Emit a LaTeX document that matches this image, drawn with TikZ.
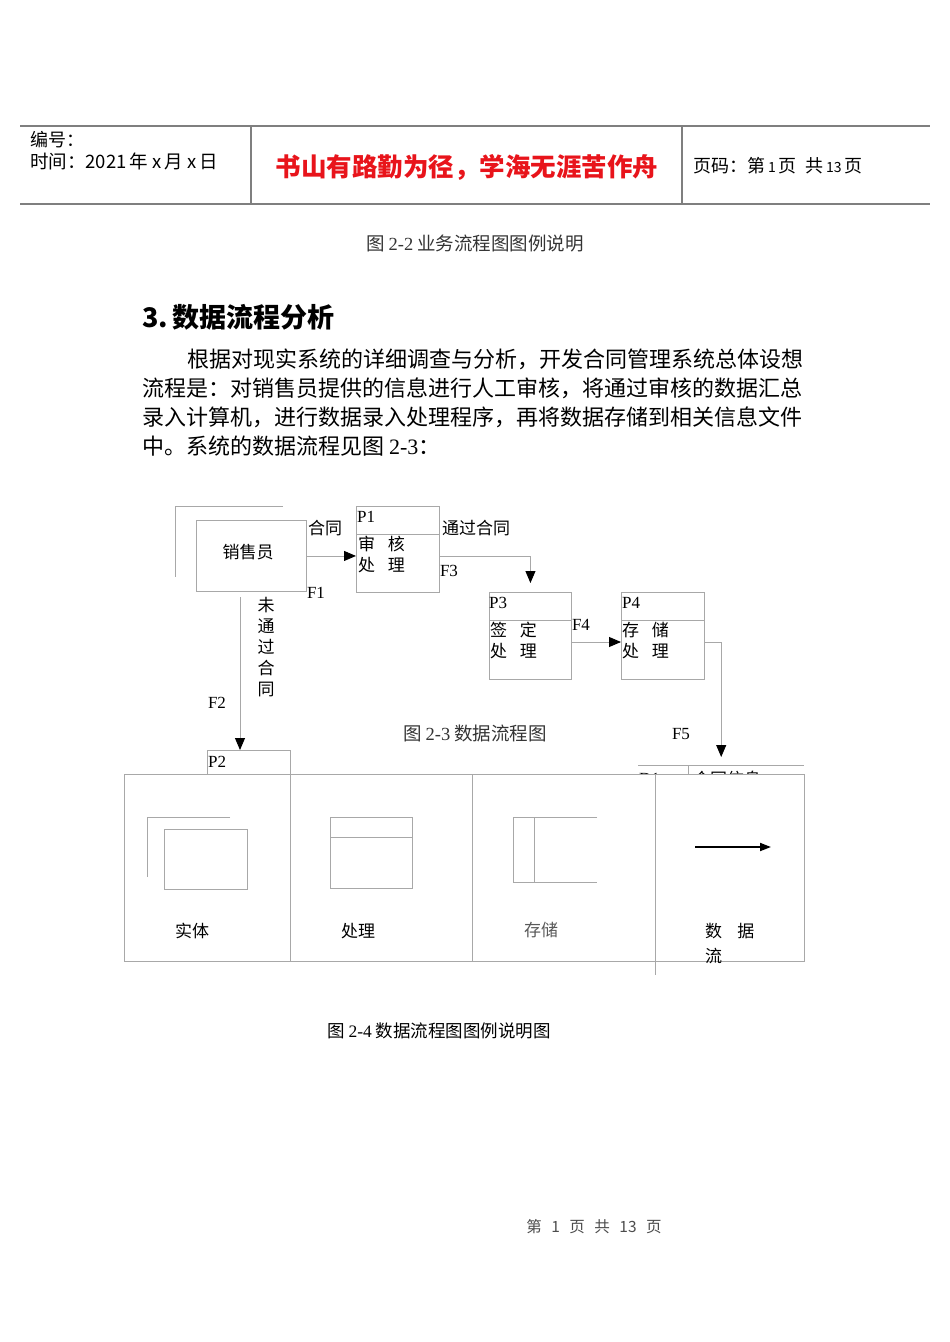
\documentclass[tikz,border=0pt]{standalone}
\usepackage{fontspec}
\setmainfont{Liberation Serif}
\newfontfamily\cjk{Noto Sans CJK SC}
\usetikzlibrary{arrows.meta, positioning}

\definecolor{linegray}{HTML}{A8A8A8}
\definecolor{rulegray}{HTML}{7F7F7F}
\definecolor{titlered}{HTML}{E8141B}
\definecolor{capgray}{HTML}{333333}

\begin{document}
\begin{tikzpicture}[
    x=1pt, y=-1pt, % page pixels, y grows downwards
    line/.style={draw=linegray, line width=0.9pt}, % thin gray box lines
    rule/.style={draw=rulegray, line width=1.3pt}, % header table lines
    flow/.style={line, -{Triangle[length=12pt, width=10pt, color=black]}}, % data flows
    box/.style={line, rectangle, inner sep=0pt, anchor=north west},
    txt/.style={inner sep=0pt, font=\cjk\fontsize{17}{21}\selectfont},
    lat/.style={inner sep=0pt, font=\fontsize{17}{21}\selectfont},
    body/.style={inner sep=0pt, anchor=west, font=\cjk\fontsize{22}{29}\selectfont}
]

    % Page size
    \useasboundingbox (0,0) rectangle (950,1342);

    % Header table
    \draw[rule] (20,126) -- (930,126);
    \draw[rule] (20,204) -- (930,204);
    \draw[rule] (251,126) -- (251,204);
    \draw[rule] (682,126) -- (682,204);
    \node[txt, anchor=west, font=\cjk\fontsize{18}{22}\selectfont] (code) at (30,140) {编号：};
    \node[txt, anchor=west, font=\cjk\fontsize{18.5}{22}\selectfont] (date) at (30,161) {时间：2021\,年\ x\,月\ x\,日};
    \node[txt, text=titlered, font=\cjk\bfseries\fontsize{25.5}{30}\selectfont] (motto) at (467,167) {书山有路勤为径，学海无涯苦作舟};
    \node[txt, anchor=west, font=\cjk\fontsize{18}{22}\selectfont] (pageno) at (693,166)
        {页码：第\,{\fontsize{14}{16}\selectfont 1}\,页\ \ 共\,{\fontsize{14}{16}\selectfont 13}\,页};

    % Text above the diagram
    \node[txt, text=capgray, font=\cjk\fontsize{18.5}{22}\selectfont] (cap22) at (475,244) {图 {\rmfamily 2-2} 业务流程图图例说明};
    \node[txt, anchor=west, font=\cjk\bfseries\fontsize{27}{32}\selectfont] (heading) at (142,317) {3.\,数据流程分析};
    \node[body] (line1) at (187,359) {根据对现实系统的详细调查与分析，开发合同管理系统总体设想};
    \node[body] (line2) at (142,388) {流程是：对销售员提供的信息进行人工审核，将通过审核的数据汇总};
    \node[body] (line3) at (142,417) {录入计算机，进行数据录入处理程序，再将数据存储到相关信息文件};
    \node[body] (line4) at (142,446) {中。系统的数据流程见图 {\rmfamily 2-3}：};

    % Entity: salesman
    \draw[line] (283,506) -- (175,506) -- (175,577);
    \node[box, minimum width=110pt, minimum height=71pt] (sales) at (196,520) {};
    \node[txt] (salesname) at (248,552) {销售员};

    % Processes
    \node[box, minimum width=83pt, minimum height=86pt] (p1) at (356,506) {};
    \draw[line] ([yshift=-28pt]p1.north west) -- ([yshift=-28pt]p1.north east);
    \node[lat, anchor=west] (p1id) at (357,517) {P1};
    \node[txt, anchor=north west, align=left] (p1name) at (358,536) {审\hspace{0.75em}核\\处\hspace{0.75em}理};

    \node[box, minimum width=82pt, minimum height=87pt] (p3) at (489,592) {};
    \draw[line] ([yshift=-28pt]p3.north west) -- ([yshift=-28pt]p3.north east);
    \node[lat, anchor=west] (p3id) at (489,603) {P3};
    \node[txt, anchor=north west, align=left] (p3name) at (490,622) {签\hspace{0.75em}定\\处\hspace{0.75em}理};

    \node[box, minimum width=83pt, minimum height=87pt] (p4) at (621,592) {};
    \draw[line] ([yshift=-28pt]p4.north west) -- ([yshift=-28pt]p4.north east);
    \node[lat, anchor=west] (p4id) at (622,603) {P4};
    \node[txt, anchor=north west, align=left] (p4name) at (622,622) {存\hspace{0.75em}储\\处\hspace{0.75em}理};

    \node[box, minimum width=83pt, minimum height=86pt] (p2) at (207,750) {};
    \node[lat, anchor=west] (p2id) at (208,762) {P2};

    % Data store D1 (open box)
    \node[inner sep=0pt, minimum width=166pt, minimum height=20pt, anchor=north west] (d1) at (638,765) {};
    \draw[line] (d1.north west) -- (d1.north east);
    \draw[line] ([xshift=50pt]d1.north west) -- ++(0,12);
    \node[lat, anchor=west] (d1id) at (639,779) {D1};
    \node[txt, anchor=west] (d1name) at (693,779) {合同信息};

    % Flows
    \coordinate (f2top) at (240,597);
    \coordinate (f4y) at (0,642);
    \draw[flow] (sales.east) -- (sales.east -| p1.west);
    \draw[flow, shorten >=9pt] (sales.east -| p1.east) -| (p3.north);
    \draw[flow] (p3.east |- f4y) -- (p4.west |- f4y);
    \draw[flow, shorten >=8pt] (p4.east |- f4y) -| (d1.north);
    \draw[flow] (f2top) -- (f2top |- p2.north);

    % Flow labels
    \node[txt] (lcontract) at (325,528) {合同};
    \node[lat] (lf1) at (316,593) {F1};
    \node[txt] (lpass) at (476,528) {通过合同};
    \node[lat] (lf3) at (449,571) {F3};
    \node[lat] (lf4) at (581,625) {F4};
    \node[lat] (lf5) at (681,734) {F5};
    \node[lat] (lf2) at (217,703) {F2};
    \node[txt, align=center] (lfail) at (266,647) {未\\通\\过\\合\\同};
    \node[txt, text=capgray, font=\cjk\fontsize{18.5}{22}\selectfont] (cap23) at (475,733) {图 {\rmfamily 2-3} 数据流程图};

    % Legend table (covers the lower part of the diagram)
    \node[box, fill=white, minimum width=680pt, minimum height=187pt] (legend) at (124,774) {};
    \draw[line] (290,774) -- (290,961);
    \draw[line] (472,774) -- (472,961);
    \draw[line] (655,774) -- (655,975);

    % Legend symbols
    \draw[line] (230,817) -- (147,817) -- (147,877);
    \node[box, minimum width=83pt, minimum height=60pt] (legentity) at (164,829) {};
    \node[box, minimum width=82pt, minimum height=71pt] (legproc) at (330,817) {};
    \draw[line] ([yshift=-20pt]legproc.north west) -- ([yshift=-20pt]legproc.north east);
    \draw[line] (597,817) -- (513,817) -- (513,882) -- (597,882);
    \draw[line] (534,817) -- (534,882);
    \coordinate (dfs) at (695,847);
    \coordinate (dfe) at (771,847);
    \draw[line width=1.8pt, -{Triangle[length=11pt, width=8pt]}] (dfs) -- (dfe);

    % Legend labels
    \node[txt] (lentity) at (192,931) {实体};
    \node[txt] (lproc) at (358,931) {处理};
    \node[txt, text=black!65] (lstore) at (541,930) {存储};
    \node[txt, anchor=west] (lflow1) at (705,931) {数\hspace{0.9em}据};
    \node[txt, anchor=west] (lflow2) at (705,956) {流};

    % Captions and footer
    \node[txt, font=\cjk\fontsize{17.5}{21}\selectfont] (cap24) at (439,1031) {图 {\rmfamily 2-4} 数据流程图图例说明图};
    \node[txt, text=black!70, font=\cjk\fontsize{15.5}{18}\selectfont] (footer) at (594,1227) {第\ \ \,1\ \ \,页\ \ \,共\ \ \,13\ \ \,页};

\end{tikzpicture}
\end{document}
